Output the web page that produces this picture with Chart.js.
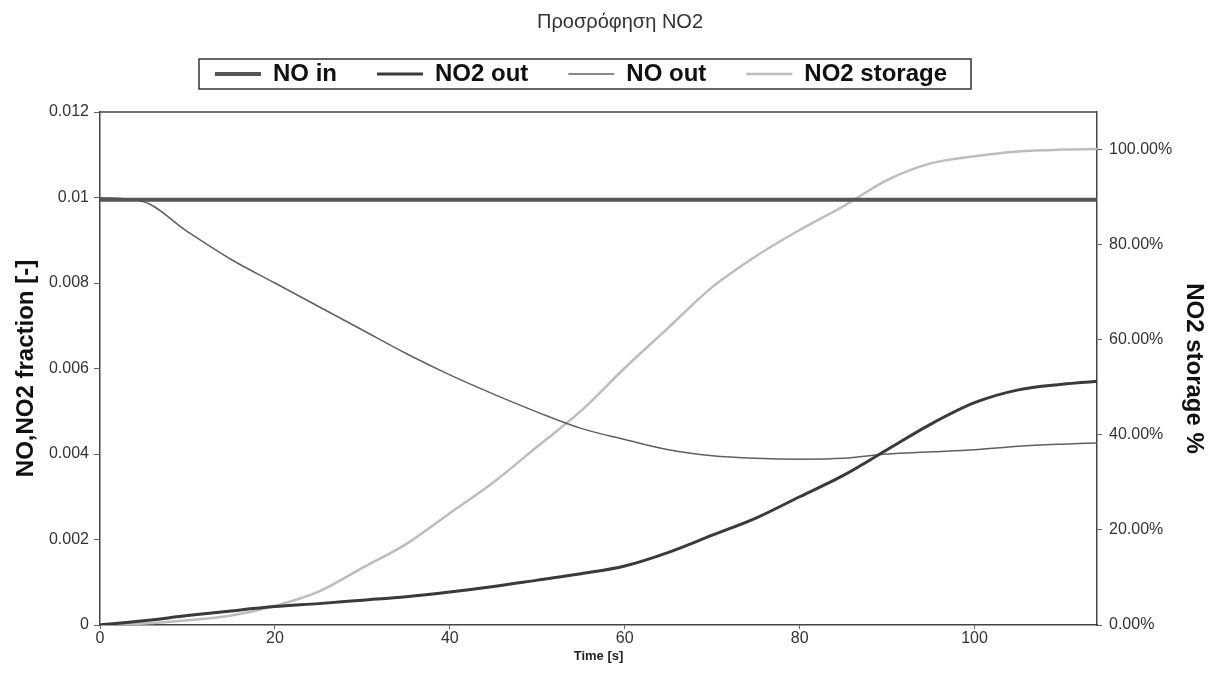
<!DOCTYPE html>
<html>
<head>
<meta charset="utf-8">
<title>Προσρόφηση NO2</title>
<script src="https://cdn.jsdelivr.net/npm/chart.js"></script>
<style>
  body { margin: 0; background: #fff; }
  #wrap { width: 1214px; height: 688px; }
</style>
</head>
<body>
<div id="wrap"><canvas id="no2Chart" width="1214" height="688"></canvas></div>
<script>
// time axis (s)
const timeSec = [0, 5, 10, 15, 20, 25, 30, 35, 40, 45, 50, 55, 60, 65, 70, 75, 80, 85, 90, 95, 100, 105, 110, 114];

// mole fractions, left axis
const noIn = [0.00995, 0.00995, 0.00995, 0.00995, 0.00995, 0.00995, 0.00995, 0.00995, 0.00995, 0.00995, 0.00995, 0.00995,
              0.00995, 0.00995, 0.00995, 0.00995, 0.00995, 0.00995, 0.00995, 0.00995, 0.00995, 0.00995, 0.00995, 0.00995];
const no2Out = [0, 0.0001, 0.00022, 0.00033, 0.00043, 0.0005, 0.00058, 0.00066, 0.00077, 0.0009, 0.00105, 0.0012,
                0.00138, 0.0017, 0.0021, 0.0025, 0.003, 0.0035, 0.0041, 0.0047, 0.0052, 0.0055, 0.00563, 0.0057];
const noOut = [0.01, 0.0099, 0.0092, 0.00855, 0.008, 0.00745, 0.0069, 0.00635, 0.00585, 0.0054, 0.00498, 0.0046,
               0.00434, 0.0041, 0.00396, 0.0039, 0.00388, 0.0039, 0.004, 0.00405, 0.0041, 0.00418, 0.00423, 0.00426];

// storage fraction, right axis
const no2Storage = [0, 0.003, 0.01, 0.02, 0.04, 0.07, 0.12, 0.17, 0.235, 0.3, 0.375, 0.45,
                    0.54, 0.625, 0.71, 0.775, 0.83, 0.88, 0.935, 0.97, 0.985, 0.995, 0.999, 1.0];

// tick labels
const xTicks = [0, 20, 40, 60, 80, 100];
const leftTicks = [0, 0.002, 0.004, 0.006, 0.008, 0.01, 0.012];
const rightTicks = [0, 0.2, 0.4, 0.6, 0.8, 1.0];

function pairs(ys) {
    return timeSec.map((t, i) => ({ x: t, y: ys[i] }));
}

// box round the legend and top edge of the plot frame
const frameAndLegendBox = {
    id: 'frameAndLegendBox',
    afterLayout(chart) {
        chart.titleBlock.left += 10;
        chart.titleBlock.right += 10;
        const lg = chart.legend;
        lg.left -= 29;
        lg.right -= 29;
        lg.top -= 16;
        lg.bottom -= 16;
    },
    afterDraw(chart) {
        const ctx = chart.ctx;
        const a = chart.chartArea;
        ctx.save();
        ctx.strokeStyle = '#444';
        ctx.lineWidth = 1.5;
        ctx.beginPath();
        ctx.moveTo(a.left, a.top);
        ctx.lineTo(a.right, a.top);
        ctx.stroke();

        const boxes = chart.legend.legendHitBoxes;
        if (boxes && boxes.length) {
            const l = Math.min(...boxes.map(b => b.left)) - 16;
            const r = Math.max(...boxes.map(b => b.left + b.width)) + 24;
            const t = Math.min(...boxes.map(b => b.top)) - 3;
            const btm = Math.max(...boxes.map(b => b.top + b.height)) + 3;
            ctx.strokeStyle = '#333';
            ctx.lineWidth = 1.5;
            ctx.strokeRect(l, t, r - l, btm - t);
        }
        ctx.restore();
    }
};

document.addEventListener('DOMContentLoaded', function() {
    const ctx = document.getElementById('no2Chart').getContext('2d');
    Chart.defaults.font.family = '"Liberation Sans", Arial, sans-serif';

    new Chart(ctx, {
        type: 'line',
        data: {
            datasets: [{
                label: 'NO in',
                data: pairs(noIn),
                borderColor: '#555555',
                backgroundColor: '#555555',
                borderWidth: 4,
                yAxisID: 'y'
            }, {
                label: 'NO2 out',
                data: pairs(no2Out),
                borderColor: '#3a3a3a',
                backgroundColor: '#3a3a3a',
                borderWidth: 3,
                yAxisID: 'y'
            }, {
                label: 'NO out',
                data: pairs(noOut),
                borderColor: '#606060',
                backgroundColor: '#606060',
                borderWidth: 1.5,
                yAxisID: 'y'
            }, {
                label: 'NO2 storage',
                data: pairs(no2Storage),
                borderColor: '#bdbdbd',
                backgroundColor: '#bdbdbd',
                borderWidth: 2.5,
                yAxisID: 'y1'
            }]
        },
        options: {
            responsive: false,
            animation: false,
            elements: {
                point: { radius: 0 },
                line: { cubicInterpolationMode: 'monotone', fill: false }
            },
            layout: { padding: { left: 12, right: 6, top: 0, bottom: 24 } },
            plugins: {
                title: {
                    display: true,
                    text: 'Προσρόφηση NO2',
                    color: '#333',
                    font: { size: 20, weight: 'normal' },
                    padding: { top: 10, bottom: 4 }
                },
                legend: {
                    display: true,
                    position: 'top',
                    labels: {
                        usePointStyle: true,
                        pointStyle: 'line',
                        pointStyleWidth: 46,
                        color: '#111',
                        font: { size: 24, weight: 'bold' },
                        padding: 40
                    }
                },
                tooltip: { enabled: false }
            },
            scales: {
                x: {
                    type: 'linear',
                    min: 0,
                    max: 114,
                    afterBuildTicks: s => { s.ticks = xTicks.map(v => ({ value: v })); },
                    afterFit: s => { s.height = 39; },
                    border: { display: true, color: '#444', width: 1.5 },
                    grid: { drawOnChartArea: false, tickLength: 4, color: '#666' },
                    ticks: { color: '#333', font: { size: 16 }, padding: 0, maxRotation: 0 },
                    title: { display: true, text: 'Time [s]', color: '#222', font: { size: 13, weight: 'bold' }, padding: 0 }
                },
                y: {
                    type: 'linear',
                    position: 'left',
                    min: 0,
                    max: 0.012,
                    afterBuildTicks: s => { s.ticks = leftTicks.map(v => ({ value: v })); },
                    afterFit: s => { s.width = 88; },
                    border: { display: true, color: '#444', width: 1.5 },
                    grid: { drawOnChartArea: false, tickLength: 6, color: '#666' },
                    ticks: { color: '#333', font: { size: 16 }, padding: 5, callback: v => String(v) },
                    title: { display: true, text: 'NO,NO2 fraction [-]', color: '#111', font: { size: 24, weight: 'bold' }, padding: 0 }
                },
                y1: {
                    type: 'linear',
                    position: 'right',
                    min: 0,
                    max: 1.078,
                    afterBuildTicks: s => { s.ticks = rightTicks.map(v => ({ value: v })); },
                    afterFit: s => { s.width = 111; },
                    border: { display: true, color: '#444', width: 1.5 },
                    grid: { drawOnChartArea: false, tickLength: 5, color: '#666' },
                    ticks: { color: '#333', font: { size: 16 }, padding: 7, callback: v => (v * 100).toFixed(2) + '%' },
                    title: { display: true, text: 'NO2 storage %', color: '#111', font: { size: 24, weight: 'bold' }, padding: 0 }
                }
            }
        },
        plugins: [frameAndLegendBox]
    });
});
</script>
</body>
</html>
